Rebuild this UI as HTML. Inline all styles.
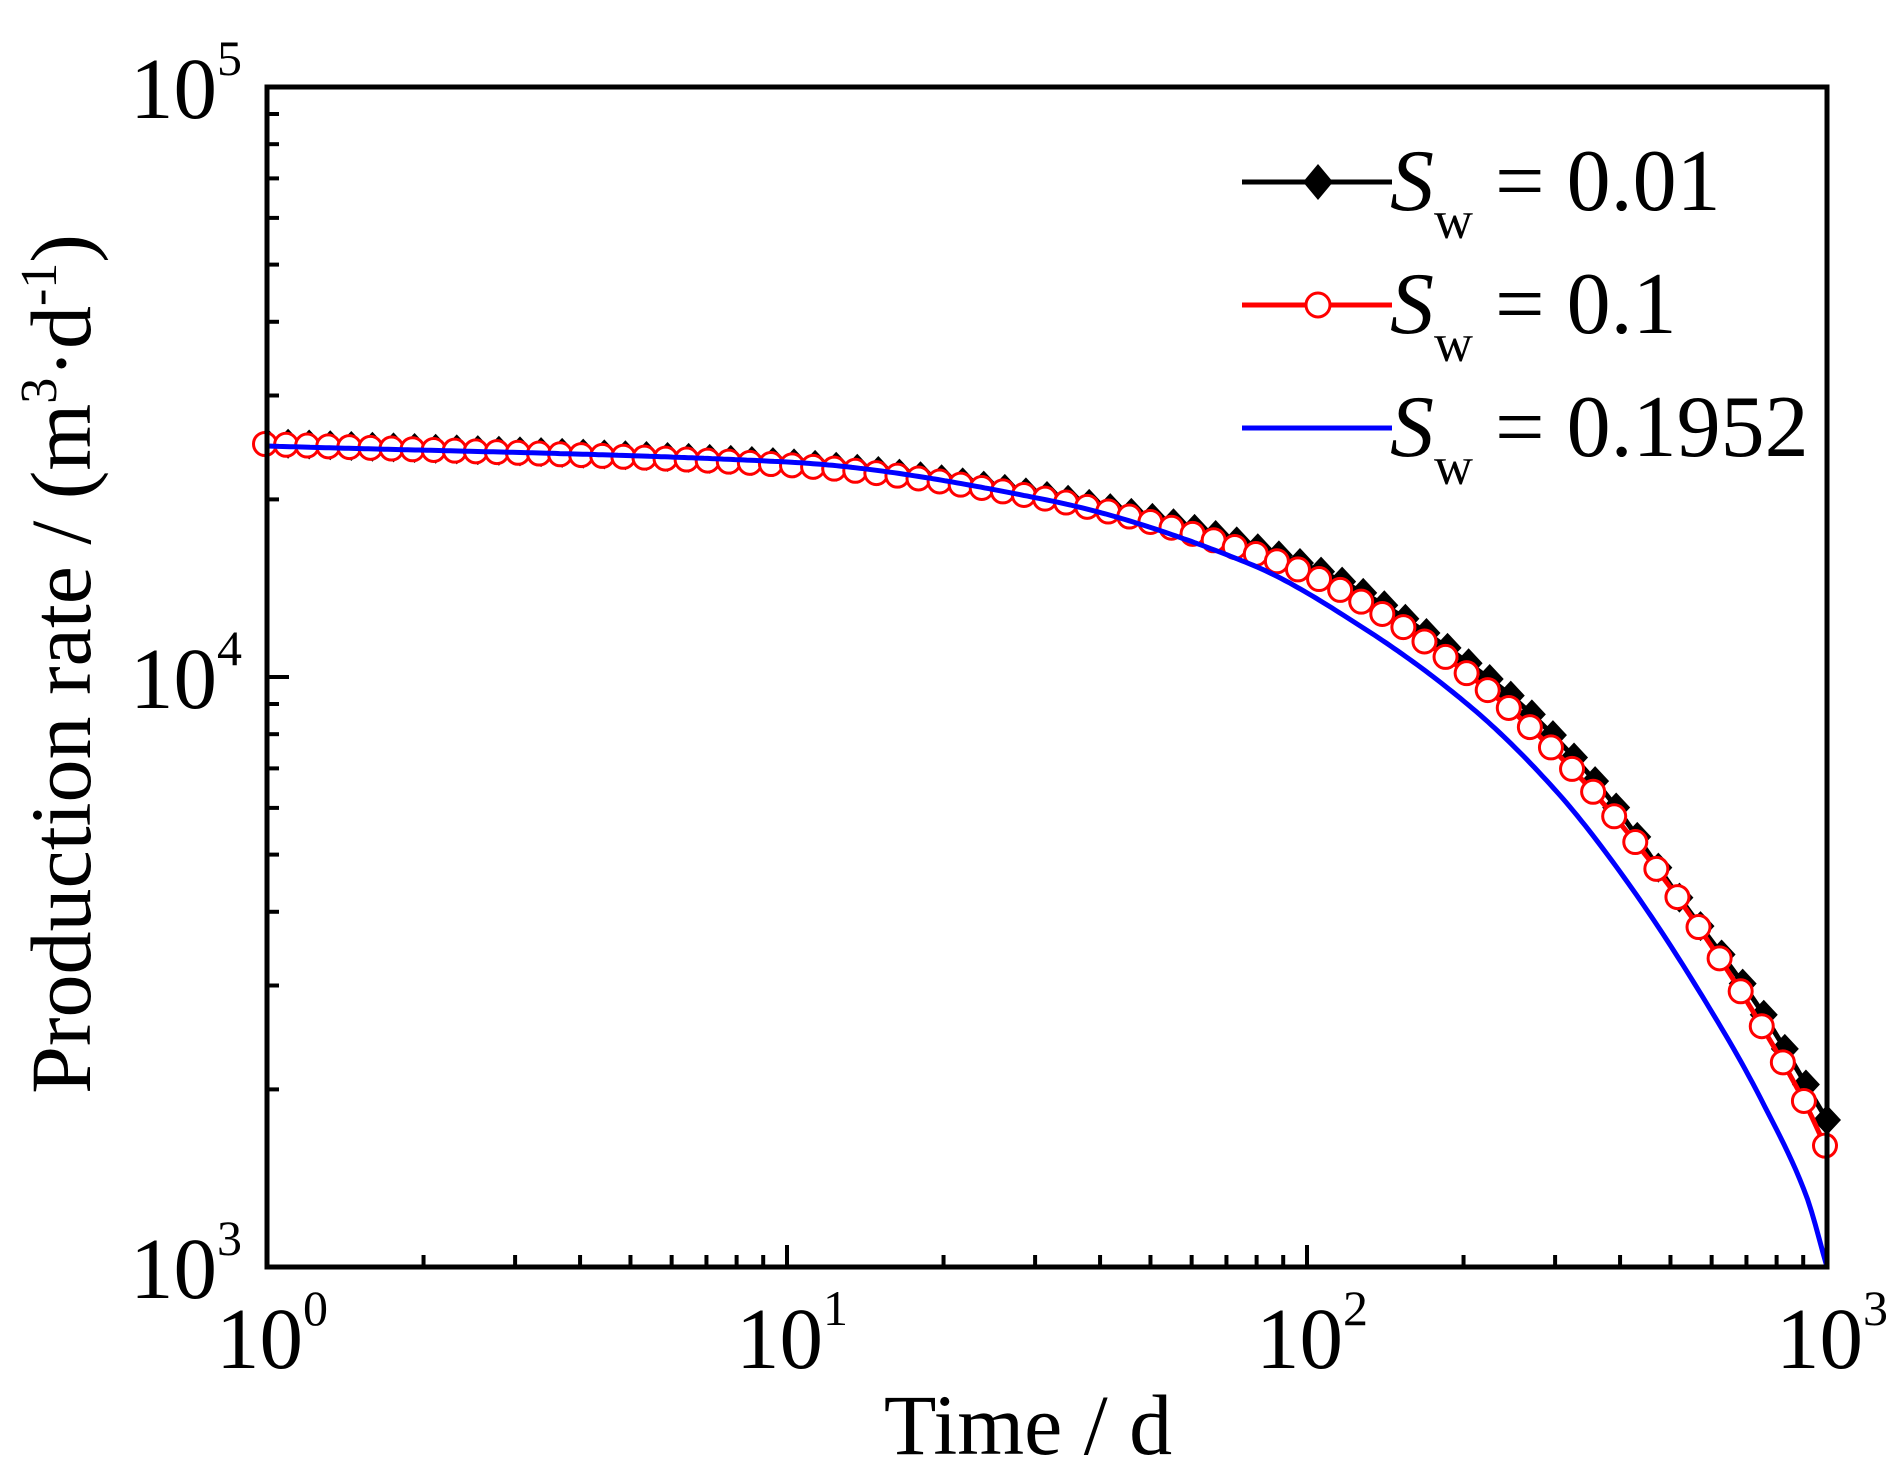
<!DOCTYPE html>
<html><head><meta charset="utf-8"><style>
html,body{margin:0;padding:0;background:#fff;}
svg{display:block;font-family:"Liberation Serif","Times New Roman",serif;}
</style></head><body>
<svg id="s" width="1892" height="1476" viewBox="0 0 1892 1476" xmlns="http://www.w3.org/2000/svg">
<rect width="1892" height="1476" fill="#fff"/>
<g id="plot"></g>
<g id="axes"></g>
<g font-size="87" fill="#000">
<text x="272" y="1368" text-anchor="middle">10<tspan font-size="50" dy="-43">0</tspan></text>
<text x="792" y="1368" text-anchor="middle">10<tspan font-size="50" dy="-43">1</tspan></text>
<text x="1312" y="1368" text-anchor="middle">10<tspan font-size="50" dy="-43">2</tspan></text>
<text x="1832" y="1368" text-anchor="middle">10<tspan font-size="50" dy="-43">3</tspan></text>
<text x="242" y="1298" text-anchor="end">10<tspan font-size="50" dy="-43">3</tspan></text>
<text x="242" y="708" text-anchor="end">10<tspan font-size="50" dy="-43">4</tspan></text>
<text x="242" y="118" text-anchor="end">10<tspan font-size="50" dy="-43">5</tspan></text>
</g>
<text x="1028" y="1454" font-size="86" text-anchor="middle">Time / d</text>
<text transform="translate(90,664) rotate(-90)" font-size="86" text-anchor="middle">Production rate / (m<tspan font-size="52" dy="-34">3</tspan><tspan dy="34">·d</tspan><tspan font-size="52" dy="-34">-1</tspan><tspan dy="34">)</tspan></text>
<g>
<line x1="1242" y1="182" x2="1392" y2="182" stroke="#000" stroke-width="5"/>
<path d="M1318 164 L1333 182 L1318 200 L1303 182Z" fill="#000"/>
<line x1="1242" y1="305" x2="1392" y2="305" stroke="#f00" stroke-width="5"/>
<circle cx="1318" cy="305" r="12" fill="#fff" stroke="#f00" stroke-width="3"/>
<line x1="1242" y1="428" x2="1392" y2="428" stroke="#00f" stroke-width="5"/>
<g font-size="88">
<text x="1390" y="210"><tspan font-style="italic">S</tspan><tspan font-size="54" dy="28">w</tspan><tspan dy="-28"> = 0.01</tspan></text>
<text x="1390" y="333"><tspan font-style="italic">S</tspan><tspan font-size="54" dy="28">w</tspan><tspan dy="-28"> = 0.1</tspan></text>
<text x="1390" y="456"><tspan font-style="italic">S</tspan><tspan font-size="54" dy="28">w</tspan><tspan dy="-28"> = 0.1952</tspan></text>
</g>
</g>
</svg>
<script>
(function(){
var L=267,R=1827,T=87,B=1267;
var blu=[[267,446],[787,462],[1047,500],[1250,564],[1365,629],[1472,708],[1557,792],[1633,890],[1725,1034],[1764,1105],[1806,1195],[1827,1267]];
var red=[[267,444],[787,465],[1047,499],[1279,562],[1384,615],[1490,692],[1574,771],[1658,871],[1722,962],[1764,1030],[1806,1105],[1827,1150]];
var blk=[[267,443],[787,463],[1047,496],[1300,563],[1495,683],[1595,781],[1679,897],[1758,1006],[1827,1120]];
function mono(pts){
  var n=pts.length,d=[],m=[];
  for(var i=0;i<n-1;i++)d.push((pts[i+1][1]-pts[i][1])/(pts[i+1][0]-pts[i][0]));
  m[0]=d[0];m[n-1]=d[n-2];
  for(var i=1;i<n-1;i++){m[i]=(d[i-1]*d[i]<=0)?0:2/(1/d[i-1]+1/d[i]);}
  return function(x){
    for(var i=0;i<n-1;i++){ if(x<=pts[i+1][0]||i==n-2){
      var p1=pts[i],p2=pts[i+1],h=p2[0]-p1[0],t=(x-p1[0])/h,t2=t*t,t3=t2*t;
      return (2*t3-3*t2+1)*p1[1]+(t3-2*t2+t)*h*m[i]+(-2*t3+3*t2)*p2[1]+(t3-t2)*h*m[i+1];
    }}
  };
}
var fb=mono(blk),fr=mono(red),fu=mono(blu);
function path(f){var d="";for(var k=0;k<=400;k++){var x=L+(R-L)*k/400;d+=(k?"L":"M")+x.toFixed(1)+" "+f(x).toFixed(1);}return d;}
var g="";
g+='<path d="'+path(fb)+'" fill="none" stroke="#000" stroke-width="5"/>';
var N=75;
for(var k=0;k<N;k++){var cx=L+(R-L)*k/(N-1);var cy=fb(cx);
 g+='<path d="M'+cx+' '+(cy-15)+'L'+(cx+14)+' '+cy+'L'+cx+' '+(cy+15)+'L'+(cx-14)+' '+cy+'Z" fill="#000"/>';}
g+='<path d="'+path(fr)+'" fill="none" stroke="#f00" stroke-width="5"/>';
for(var k=0;k<N;k++){var cx=L+(R-L)*k/(N-1)-2;var cy=fr(Math.max(cx,L));
 g+='<circle cx="'+cx+'" cy="'+cy+'" r="11.5" fill="#fff" stroke="#f00" stroke-width="3"/>';}
g+='<path d="'+path(fu)+'" fill="none" stroke="#00f" stroke-width="5"/>';
document.getElementById("plot").innerHTML=g;
var DX=(R-L)/3,DY=(B-T)/2;
var a='<rect x="'+L+'" y="'+T+'" width="'+(R-L)+'" height="'+(B-T)+'" fill="none" stroke="#000" stroke-width="5"/>';
for(var d=0;d<3;d++){for(var m=1;m<10;m++){var x=L+(d+Math.log10(m))*DX;var len=m==1?22:12;
 a+='<line x1="'+x+'" y1="'+B+'" x2="'+x+'" y2="'+(B-len)+'" stroke="#000" stroke-width="4"/>';}}
for(var d=0;d<2;d++){for(var m=1;m<10;m++){var y=B-(d+Math.log10(m))*DY;var len=m==1?22:12;
 a+='<line x1="'+L+'" y1="'+y+'" x2="'+(L+len)+'" y2="'+y+'" stroke="#000" stroke-width="4"/>';}}
document.getElementById("axes").innerHTML=a;
})();
</script>
</body></html>
